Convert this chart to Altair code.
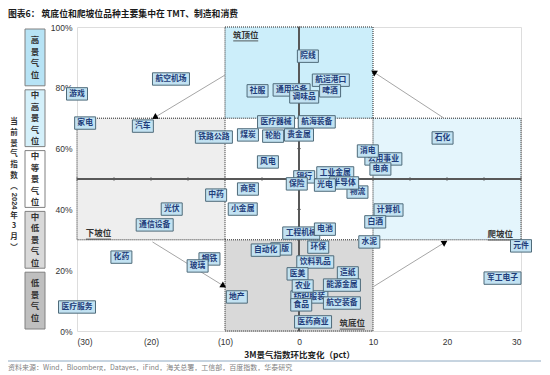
import math
import altair as alt
import pandas as pd

# ---------------- data ----------------
names = ["航空机场", "游戏", "家电", "汽车", "铁路公路", "中药", "光伏", "通信设备", "化药", "钢铁",
         "玻璃", "医疗服务", "地产", "院线", "航运港口", "社服", "通用设备", "啤酒", "调味品", "医疗器械",
         "航海装备", "煤炭", "轮胎", "贵金属", "风电", "消电", "公用事业", "电商", "工业金属", "银行",
         "保险", "光电", "半导体", "物流", "商贸", "小金属", "计算机", "石化", "工程机械", "电池",
         "白酒", "水泥", "出版", "自动化", "环保", "饮料乳品", "医美", "造纸", "农业", "能源金属",
         "纺织服装", "食品", "航空装备", "医药商业", "元件", "军工电子"]
chg = [-17.3, -30.0, -28.9, -21.1, -11.5, -11.2, -17.2, -19.5, -24.0, -12.1,
       -13.7, -30.0, -8.4, 1.2, 4.3, -5.6, -1.0, 4.2, 0.7, -3.1,
       2.4, -6.9, -3.5, 0.0, -4.2, 9.3, 11.4, 11.0, 4.9, 0.7,
       -0.3, 3.5, 6.1, 7.9, -6.9, -7.6, 12.1, 19.4, 0.3, 3.5,
       10.3, 9.5, -2.4, -4.5, 2.6, 2.2, -0.2, 6.6, 0.5, 5.8,
       1.4, 0.3, 5.8, 1.9, 30.0, 27.5]
level = [82.9, 78.0, 68.4, 67.4, 63.8, 44.7, 40.1, 34.9, 24.3, 23.7,
         21.4, 7.9, 11.2, 90.4, 82.5, 79.0, 79.3, 79.0, 77.0, 68.8,
         68.8, 64.5, 64.1, 64.5, 55.6, 59.2, 56.6, 53.3, 52.0, 50.7,
         48.4, 48.0, 48.7, 45.7, 46.7, 40.1, 39.8, 63.5, 32.2, 33.5,
         35.9, 29.3, 27.0, 26.6, 27.6, 22.7, 18.8, 19.1, 14.8, 15.1,
         11.2, 8.6, 9.2, 3.0, 28.0, 17.4]
back_labels = ["通用设备", "银行", "出版", "纺织服装", "公用事业", "工业金属", "物流",
               "工程机械", "钢铁", "航运港口", "造纸"]
front_labels = ["光电"]

region_names = ["筑顶位", "下坡位", "爬坡位", "筑底位"]
region_x0 = [-10, -30, 10, -10]
region_x1 = [10, -10, 30, 10]
region_y0 = [70, 30, 30, 0]
region_y1 = [100, 70, 70, 30]
region_fill = ["#CCEEFA", "#EEEEEE", "#E4F5FC", "#D9D9D9"]
region_lab_x = [-7.2, -27.1, 27.2, 7.2]
region_lab_y = [97.4, 32.2, 31.9, 2.6]

arrow_x0 = [-10.0, -19.8, 10.0, 19.6]
arrow_y0 = [84.2, 29.3, 14.5, 70.0]
arrow_x1 = [-19.4, -10.3, 19.6, 10.2]
arrow_y1 = [70.4, 15.0, 29.0, 85.0]

band_names = ["高景气位", "中高景气位", "中等景气位", "中低景气位", "低景气位"]
band_lo = [80, 60, 40, 20, 0]
band_hi = [100, 80, 60, 40, 20]
band_fill = ["#B7E3F5", "#D4F0FA", "#FFFFFF", "#D9D9D9", "#BFBFBF"]

x_ticks = [-30, -25, -20, -15, -10, -5, 0, 5, 10, 15, 20, 25, 30]
y_ticks = [0, 10, 20, 30, 40, 50, 60, 70, 80, 90, 100]

title_text = "图表6：  筑底位和爬坡位品种主要集中在 TMT、制造和消费"
source_text = "资料来源：Wind，Bloomberg，Datayes，iFind，海关总署，工信部，百度指数，华泰研究"
ytitle_top = ["当", "前", "景", "气", "指", "数", "︵"]
ytitle_year = "2024"
ytitle_bottom = ["年", "3", "月", "︶"]

# ---------------- layout helpers ----------------
W, H = 444, 304
XMIN, XMAX = -30, 30
PX_X = W / (XMAX - XMIN)      # pixels per x unit
PX_Y = H / 100.0              # pixels per y unit
CJK = "Noto Sans CJK SC"
LAT = "Liberation Sans"
BAND_LH = 11.5
YT_LH = 10.8
YT_TOP = 95

xscale = alt.Scale(domain=[XMIN, XMAX], nice=False, zero=False)
yscale = alt.Scale(domain=[0, 100], nice=False, zero=False)
xaxis = alt.Axis(values=x_ticks, domain=False, ticks=False, grid=False,
                 labelExpr="datum.value < 0 ? '(' + (-datum.value) + ')' : '' + datum.value",
                 labelFont=LAT, labelFontSize=8.5, labelColor="#333333", labelPadding=6,
                 titleFont=CJK, titleFontSize=8.5, titleFontWeight="bold", titleColor="#222222",
                 titlePadding=5)
yaxis = alt.Axis(values=y_ticks, domain=False, ticks=False, grid=False,
                 labelExpr="datum.value + '%'", labelFont=LAT, labelFontSize=8.5,
                 labelColor="#333333", labelPadding=5)
XT = "3M景气指数环比变化（pct）"


def xe(f):
    return alt.X(f"{f}:Q", scale=xscale, axis=xaxis, title=XT)


def ye(f):
    return alt.Y(f"{f}:Q", scale=yscale, axis=yaxis, title=None)


# ---------------- tables ----------------
lab = pd.DataFrame({"name": names, "x": chg, "y": level})
lab["n"] = lab["name"].str.len()
lab["hw"] = (lab["n"] * 8 + 5) / 2 / PX_X
lab["hh"] = 6.2 / PX_Y
lab["x1"] = lab["x"] - lab["hw"]
lab["x2"] = lab["x"] + lab["hw"]
lab["y1"] = lab["y"] - lab["hh"]
lab["y2"] = lab["y"] + lab["hh"]
lab["z"] = [0 if n in back_labels else (2 if n in front_labels else 1) for n in names]

reg = pd.DataFrame({"name": region_names, "x0": region_x0, "x1": region_x1,
                    "y0": region_y0, "y1": region_y1, "fill": region_fill,
                    "lx": region_lab_x, "ly": region_lab_y})
reg["ux0"] = reg["lx"] - 12.5 / PX_X
reg["ux1"] = reg["lx"] + 12.5 / PX_X

arr_rows = []
head_rows = []
for i in range(len(arrow_x0)):
    arr_rows.append({"id": i, "o": 0, "x": arrow_x0[i], "y": arrow_y0[i]})
    arr_rows.append({"id": i, "o": 1, "x": arrow_x1[i], "y": arrow_y1[i]})
    dxp = (arrow_x1[i] - arrow_x0[i]) * PX_X
    dyp = -(arrow_y1[i] - arrow_y0[i]) * PX_Y
    ang = math.degrees(math.atan2(dxp, -dyp)) % 360
    head_rows.append({"x": arrow_x1[i], "y": arrow_y1[i], "ang": ang})
arr = pd.DataFrame(arr_rows)
heads = pd.DataFrame(head_rows)

band = pd.DataFrame({"name": band_names, "lo": band_lo, "hi": band_hi, "fill": band_fill})
band["n"] = band["name"].str.len()
band["mid"] = (band["lo"] + band["hi"]) / 2
# first line position so that the stacked block is centred in its band
band["ty"] = band["mid"] + (band["n"] - 1) * BAND_LH / 2 / PX_Y
band["txt"] = band["name"].apply(lambda s: "\n".join(list(s)))

xt = pd.DataFrame({"x": x_ticks, "y": 50})
yt = pd.DataFrame({"x": 0, "y": y_ticks})

# ---------------- layers ----------------
regions = alt.Chart(reg).mark_rect(stroke="#222222", strokeWidth=1, strokeDash=[1, 1]).encode(
    x=xe("x0"), x2="x1", y=ye("y0"), y2="y1",
    fill=alt.Fill("fill:N", scale=None))

reg_text = alt.Chart(reg).mark_text(font=CJK, fontSize=8.5, fontWeight="bold",
                                    color="#333333", baseline="middle").encode(
    x=xe("lx"), y=ye("ly"), text="name:N")
reg_under = alt.Chart(reg).mark_rule(color="#333333", strokeWidth=0.8, yOffset=6).encode(
    x=xe("ux0"), x2="ux1", y=ye("ly"))

hline = alt.Chart(xt).mark_rule(color="#595959", strokeWidth=1).encode(
    x=alt.datum(XMIN, scale=xscale), x2=alt.datum(XMAX), y=alt.datum(50, scale=yscale))
vline = alt.Chart(yt).mark_rule(color="#595959", strokeWidth=1).encode(
    x=alt.datum(0, scale=xscale), y=alt.datum(0, scale=yscale), y2=alt.datum(100))
hticks = alt.Chart(xt).mark_tick(orient="vertical", size=4, thickness=1, color="#595959").encode(
    x=xe("x"), y=ye("y"))
vticks = alt.Chart(yt).mark_tick(orient="horizontal", size=4, thickness=1, color="#595959").encode(
    x=xe("x"), y=ye("y"))

arrows = alt.Chart(arr).mark_line(color="#A6A6A6", strokeWidth=1).encode(
    x=xe("x"), y=ye("y"), detail="id:N", order="o:Q")
arrow_heads = alt.Chart(heads).mark_point(shape="triangle", filled=True, size=45,
                                          color="#000000", opacity=1).encode(
    x=xe("x"), y=ye("y"), angle=alt.Angle("ang:Q", scale=None))

label_layers = []
for zl in [0, 1, 2]:
    base = alt.Chart(lab).transform_filter(alt.datum.z == zl)
    label_layers.append(base.mark_rect(fill="#C2E2F2", stroke="#4F6B7A", strokeWidth=1).encode(
        x=xe("x1"), x2="x2", y=ye("y1"), y2="y2"))
    label_layers.append(base.mark_text(font=CJK, fontSize=7.8, fontWeight="bold",
                                       color="#1F3D7A", baseline="middle").encode(
        x=xe("x"), y=ye("y"), text="name:N"))

bands = alt.Chart(band).mark_rect(stroke="#808080", strokeWidth=1, yOffset=-2, y2Offset=2).encode(
    x=alt.value(-52), x2=alt.value(-32), y=ye("lo"), y2="hi",
    fill=alt.Fill("fill:N", scale=None))
band_text = alt.Chart(band).mark_text(font=CJK, fontSize=8.5, fontWeight="bold", color="#333333",
                                      lineBreak="\n", lineHeight=BAND_LH, baseline="middle").encode(
    x=alt.value(-42), y=ye("ty"), text="txt:N")

# vertical y-axis title: upright CJK stack with the year turned sideways
year_len = 18
yt_top = alt.Chart(pd.DataFrame({"t": ["\n".join(ytitle_top)]})).mark_text(
    font=CJK, fontSize=7.5, fontWeight="bold", color="#333333", lineBreak="\n",
    lineHeight=YT_LH, baseline="middle").encode(x=alt.value(-63), y=alt.value(YT_TOP), text="t:N")
year_y = YT_TOP + (len(ytitle_top) - 1) * YT_LH + YT_LH / 2 + year_len / 2
yt_year = alt.Chart(pd.DataFrame({"t": [ytitle_year]})).mark_text(
    font=LAT, fontSize=7.5, fontWeight="bold", color="#333333", angle=90,
    baseline="middle", align="center").encode(x=alt.value(-63), y=alt.value(year_y), text="t:N")
bot_y = year_y + year_len / 2 + YT_LH / 2
yt_bot = alt.Chart(pd.DataFrame({"t": ["\n".join(ytitle_bottom)]})).mark_text(
    font=CJK, fontSize=7.5, fontWeight="bold", color="#333333", lineBreak="\n",
    lineHeight=YT_LH, baseline="middle").encode(x=alt.value(-63), y=alt.value(bot_y), text="t:N")

title = alt.Chart(pd.DataFrame({"t": [title_text]})).mark_text(
    font=CJK, fontSize=8.8, fontWeight="bold", color="#1A1A1A", align="left",
    baseline="middle").encode(x=alt.value(-69), y=alt.value(-13), text="t:N")
foot_line = alt.Chart(pd.DataFrame({"t": [0]})).mark_rule(color="#8EA9C1", strokeWidth=1).encode(
    x=alt.value(-69), x2=alt.value(464), y=alt.value(334))
source = alt.Chart(pd.DataFrame({"t": [source_text]})).mark_text(
    font=CJK, fontSize=7, color="#7F7F7F", align="left", baseline="middle").encode(
    x=alt.value(-69), y=alt.value(341), text="t:N")

chart = alt.layer(
    regions, hline, vline, hticks, vticks, arrows, arrow_heads,
    reg_under, reg_text, *label_layers, bands, band_text, yt_top, yt_year, yt_bot,
    title, foot_line, source
).properties(
    width=W, height=H,
    autosize=alt.AutoSizeParams(type="none"),
    padding={"left": 69, "top": 19, "right": 20, "bottom": 40},
).configure_view(stroke=None).configure(background="#FFFFFF")

chart.save("out.html", embed_options={"renderer": "svg", "actions": False})
